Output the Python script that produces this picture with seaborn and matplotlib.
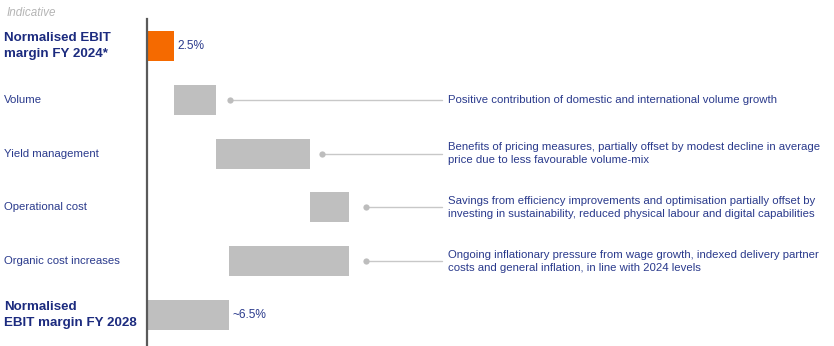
import numpy as np
import pandas as pd
import seaborn as sns
import matplotlib
matplotlib.use("Agg")
import matplotlib.pyplot as plt

# ---- data (indicative widths, in margin-percentage-point units) ----
categories = ["Normalised EBIT\nmargin FY 2024*", "Volume", "Yield management",
              "Operational cost", "Organic cost increases",
              "Normalised\nEBIT margin FY 2028"]
start_value = 2.5
step_values = [4.0, 8.8, 3.6, -11.2]
value_labels = ["2.5%", "~6.5%"]
comments = [
    "Positive contribution of domestic and international volume growth",
    "Benefits of pricing measures, partially offset by modest decline in average\nprice due to less favourable volume-mix",
    "Savings from efficiency improvements and optimisation partially offset by\ninvesting in sustainability, reduced physical labour and digital capabilities",
    "Ongoing inflationary pressure from wage growth, indexed delivery partner\ncosts and general inflation, in line with 2024 levels",
]

# build waterfall table
cum = np.cumsum([start_value] + step_values)
end_value = cum[-1]
lefts = [0.0] + [min(cum[i], cum[i + 1]) for i in range(len(step_values))] + [0.0]
widths = [start_value] + [abs(v) for v in step_values] + [end_value]
df = pd.DataFrame({"category": categories, "left": lefts, "width": widths})

sns.set_theme(style="white")
plt.rcParams["font.family"] = ["Liberation Sans", "DejaVu Sans"]

NAVY = "#1c2b7f"
LABEL = "#2a3a8c"
ORANGE = "#f56a00"
GRAY = "#bfbfbf"

W, H = 834, 346
fig = plt.figure(figsize=(W / 100, H / 100), dpi=100)
x0 = 147
ax = fig.add_axes([x0 / W, 0, 1 - x0 / W, 1])
px_per_unit = 10.68
ax.set_xlim(0, (W - x0) / px_per_unit)
row = 53.8
ax.set_ylim(5 + (H - 315) / row, -46 / row)

ypos = np.arange(len(df))
colors = [ORANGE] + [GRAY] * (len(df) - 1)
ax.barh(ypos, df["width"], left=df["left"], height=0.56, color=colors,
        edgecolor="none")

for s in ["top", "right", "bottom"]:
    ax.spines[s].set_visible(False)
ax.spines["left"].set_color("#5a5a5a")
ax.spines["left"].set_linewidth(1.6)
ax.spines["left"].set_bounds(-0.5, 5 + (H - 315) / row)
ax.set_xticks([])
ax.set_yticks([])

# left category labels
for i, cat in enumerate(categories):
    bold = i in (0, len(categories) - 1)
    fig.text(4 / W, 1 - (46 + i * row) / H, cat, ha="left", va="center",
             fontsize=9.6 if bold else 8.2, fontweight="bold" if bold else "normal",
             color=NAVY if bold else LABEL, linespacing=1.45)

# value labels
ax.text(df["width"].iloc[0] + 3.3 / px_per_unit, 0, value_labels[0],
        ha="left", va="center", fontsize=8.6, color=LABEL)
ax.text(df["width"].iloc[-1] + 3.3 / px_per_unit, len(df) - 1, value_labels[1],
        ha="left", va="center", fontsize=8.6, color=LABEL)

# comment connectors and texts
line_end = (441.5 - x0) / px_per_unit
text_x = (448 - x0) / px_per_unit
dot_gaps = [13.5, 11.5, 17, 17]
for k, txt in enumerate(comments):
    i = k + 1
    right = df["left"].iloc[i] + df["width"].iloc[i]
    dx = right + dot_gaps[k] / px_per_unit
    ax.plot([dx, line_end], [i, i], color="#c8c8c8", lw=1.0)
    ax.plot([dx], [i], "o", color="#bdbdbd", ms=4.5, mec="none")
    ax.text(text_x, i, txt, ha="left", va="center", fontsize=8.2,
            color=LABEL, linespacing=1.4)

fig.text(7 / W, 1 - 12.5 / H, "Indicative", ha="left", va="center",
         fontsize=8.4, style="italic", color="#b5b5b5")

fig.savefig("out.png", dpi=100, facecolor="white")
